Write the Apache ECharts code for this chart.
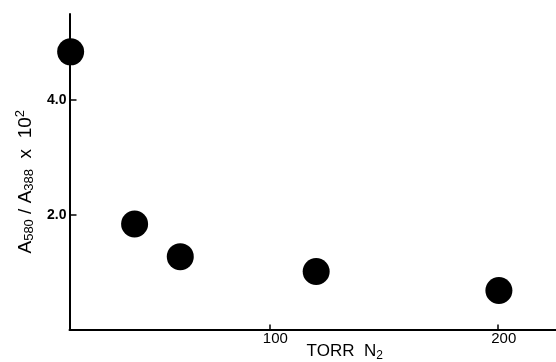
<!DOCTYPE html>
<html>
<head>
<meta charset="utf-8">
<script src="https://cdn.jsdelivr.net/npm/echarts@6/dist/echarts.min.js"></script>
<style>
  html, body { margin: 0; padding: 0; background: #fff; }
  #chart { width: 556px; height: 362px; }
</style>
</head>
<body>
<div id="chart"></div>
<script>
// torr N2 vs absorbance ratio
var torrN2 = [13, 41, 61, 120.5, 200.5];
var ratio = [4.84, 1.84, 1.27, 1.01, 0.68];
var xTicks = [100, 200];
var yTicks = [2, 4];

var points = [];
for (var i = 0; i < torrN2.length; i++) {
    points.push([torrN2[i], ratio[i]]);
}

var font = '"Liberation Sans", Arial, sans-serif';

var chart = echarts.init(document.getElementById('chart'));
var option = {
    animation: false,
    backgroundColor: '#fff',
    grid: {
        left: 69.5,
        top: 14,
        right: 0,
        bottom: 32.5,
        containLabel: false,
        outerBoundsMode: 'none'
    },
    xAxis: {
        type: 'value',
        min: 12.5,
        max: 225.5,
        splitLine: { show: false },
        axisLine: { lineStyle: { color: '#000', width: 2 } },
        axisTick: {
            show: true,
            inside: true,
            length: 5,
            customValues: xTicks,
            lineStyle: { color: '#000', width: 1.5 }
        },
        axisLabel: {
            customValues: xTicks,
            margin: 2,
            color: '#000',
            fontFamily: font,
            fontSize: 15,
            padding: [0, 0, 0, 12]
        },
        name: 'TORR  N{sub|2}',
        nameLocation: 'middle',
        nameGap: 12,
        nameMoveOverlap: false,
        nameTextStyle: {
            color: '#000',
            fontFamily: font,
            fontSize: 17,
            lineHeight: 20,
            padding: [0, 0, 0, 64],
            rich: {
                sub: { fontSize: 12, fontFamily: font, color: '#000', padding: [8, 0, 0, 0] }
            }
        }
    },
    yAxis: {
        type: 'value',
        min: 0,
        max: 5.5,
        splitLine: { show: false },
        axisLine: { lineStyle: { color: '#000', width: 2 } },
        axisTick: {
            show: true,
            inside: true,
            length: 7,
            customValues: yTicks,
            lineStyle: { color: '#000', width: 1.5 }
        },
        axisLabel: {
            customValues: yTicks,
            margin: 3,
            color: '#000',
            fontFamily: font,
            fontWeight: 'bold',
            fontSize: 14,
            padding: [0, 0, 6, 0],
            formatter: function (v) { return v.toFixed(1); }
        },
        name: 'A{sub|580} / A{sub|388}  x  10{sup|2}',
        nameLocation: 'middle',
        nameRotate: 90,
        nameGap: 33,
        nameMoveOverlap: false,
        nameTextStyle: {
            color: '#000',
            fontFamily: font,
            fontSize: 19,
            lineHeight: 22,
            padding: [0, 20, 0, 0],
            rich: {
                sub: { fontSize: 13, fontFamily: font, color: '#000', padding: [8, 0, 0, 0] },
                sup: { fontSize: 13, fontFamily: font, color: '#000', padding: [0, 0, 10, 0] }
            }
        }
    },
    series: [{
        type: 'scatter',
        data: points,
        symbol: 'circle',
        symbolSize: 27,
        clip: false,
        itemStyle: { color: '#000', opacity: 1 }
    }]
};
chart.setOption(option);
</script>
</body>
</html>
